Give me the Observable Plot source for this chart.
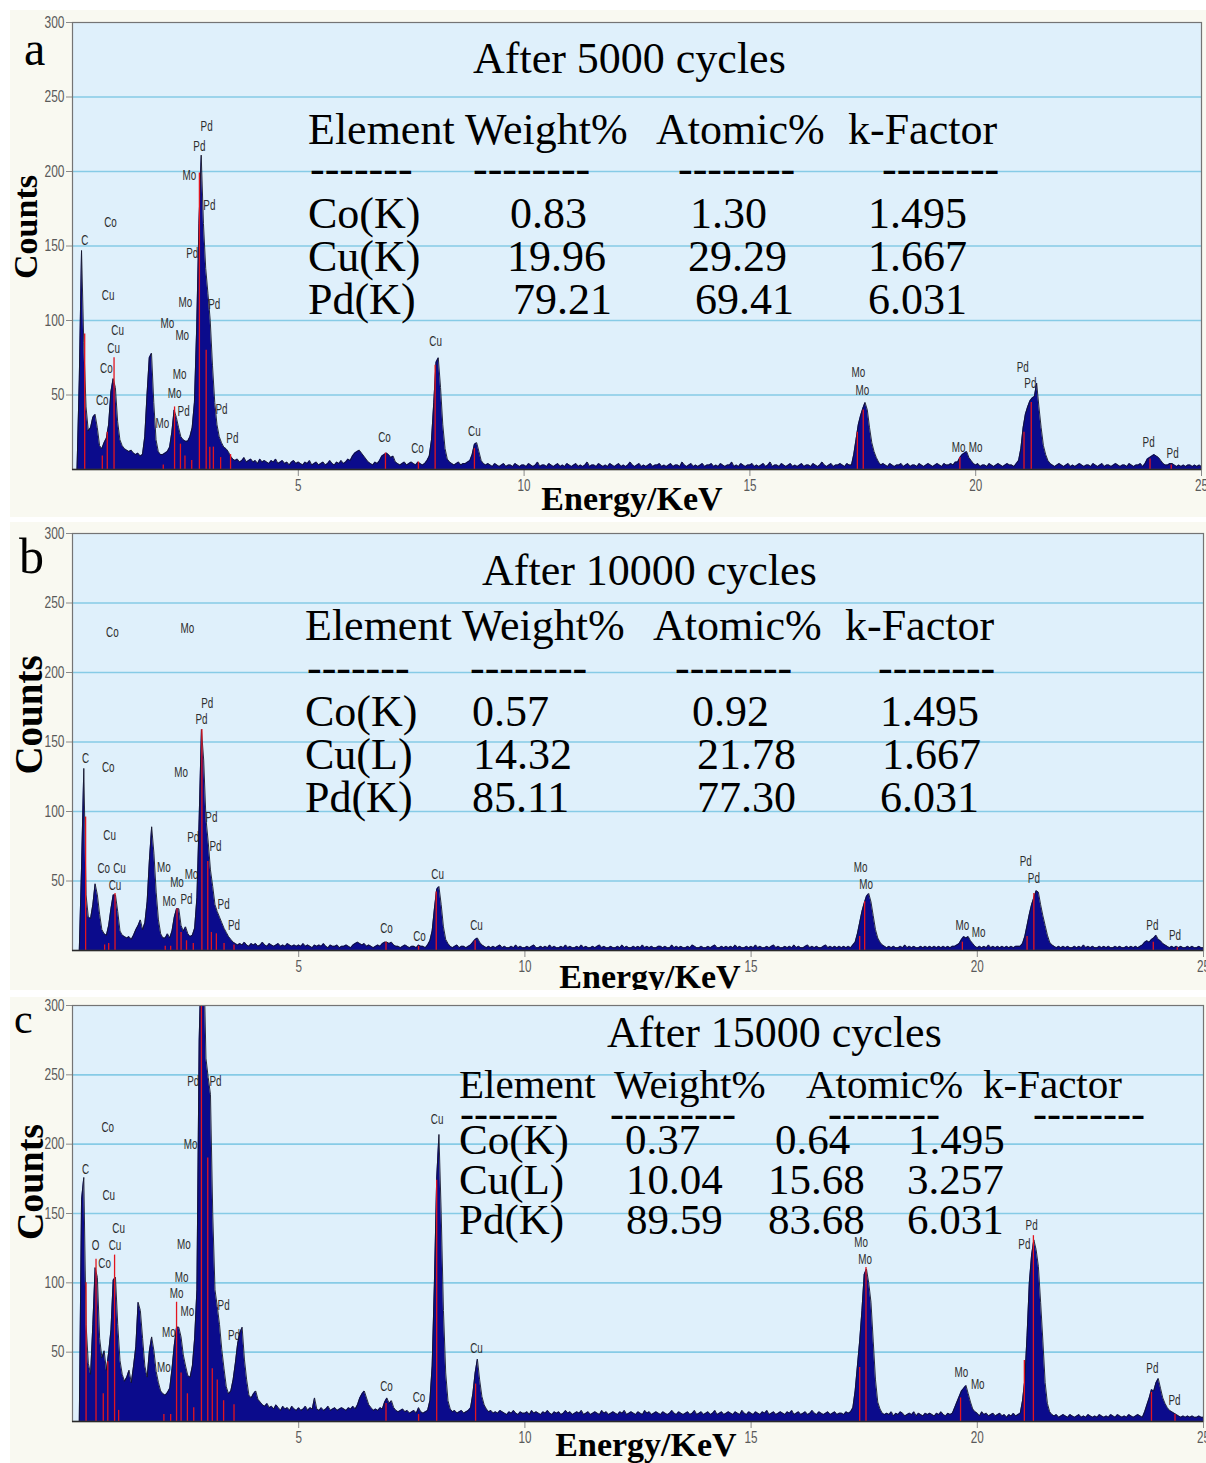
<!DOCTYPE html>
<html>
<head>
<meta charset="utf-8">
<title>EDS spectra after cycling</title>
<script src="https://cdn.jsdelivr.net/npm/d3@7"></script>
<script src="https://cdn.jsdelivr.net/npm/@observablehq/plot@0.6"></script>
<style>
  html, body { margin: 0; padding: 0; background: #ffffff; }
  #page { position: relative; width: 1206px; height: 1463px; overflow: hidden; background: #ffffff; }
  .panel-bg { position: absolute; background: #f9f9f1; }
  .chart { position: absolute; left: 0px; }
</style>
</head>
<body>
<div id="page"></div>
<script>
// ---- Spectrum data: counts per 0.05 keV channel, 0 to 25 keV (one row = 1 keV) ----
const channelWidth = 0.05;

const countsA = [
  0,0,0,60,147,85,42,26,28,35,37,28,16,14,18,21,30,52,61,55,
  32,20,16,14,13,12,13,11,10,11,9,10,22,50,75,78,45,20,12,10,
  10,11,12,15,25,40,35,28,22,20,19,19,22,28,45,95,165,211,165,135,
  118,100,70,45,30,22,18,15,14,12,9,7,6,7,5,6,8,5,6,7,
  5,6,4,7,5,6,5,4,6,5,7,4,5,6,4,5,3,5,6,4,
  5,4,3,5,4,6,3,4,5,3,4,5,3,4,6,4,3,5,4,6,
  4,5,7,6,9,11,12,13,11,9,7,5,4,3,5,4,6,9,10,11,
  10,8,9,5,4,3,4,5,3,4,5,4,3,5,4,3,4,6,9,20,
  45,72,75,55,30,14,7,5,4,3,4,5,3,4,4,5,6,10,17,18,
  12,6,4,3,4,3,2,4,3,2,3,4,2,3,3,2,4,3,2,3,
  3,2,4,3,2,3,5,2,3,3,2,4,3,2,3,4,2,3,2,4,
  3,2,3,4,2,3,2,3,5,2,3,3,2,4,3,2,3,2,4,3,
  2,3,4,2,3,2,3,5,3,2,3,4,2,3,2,3,4,2,3,3,
  4,2,3,2,3,4,2,3,3,2,5,3,2,3,4,2,3,2,3,4,
  2,3,3,4,2,3,2,4,3,2,3,3,5,2,3,2,4,3,2,3,
  3,4,2,3,2,3,4,2,3,5,2,3,3,2,4,3,2,3,4,2,
  3,2,3,4,2,3,3,2,4,3,2,3,5,3,2,3,4,2,3,3,
  4,3,2,4,3,3,10,20,30,36,41,45,40,28,18,12,8,5,3,4,
  3,2,4,3,2,3,3,4,2,3,4,2,3,3,2,4,3,2,3,4,
  3,2,3,4,3,2,4,3,3,4,3,5,5,8,10,11,12,8,6,4,
  3,4,2,3,3,2,4,3,2,3,4,3,2,3,4,3,3,2,4,6,
  14,28,37,42,46,48,49,58,42,28,16,10,6,4,3,2,3,4,3,2,
  3,4,2,3,2,3,4,3,2,3,3,2,4,3,2,3,4,2,3,3,
  2,3,4,3,2,3,3,2,4,3,2,3,3,4,2,4,7,8,9,10,
  9,8,6,4,3,3,4,4,3,2,3,2,3,2,3,3,2,3,2,3,
  2
];

const countsB = [
  0,0,0,0,60,131,40,24,23,33,48,40,26,15,12,11,18,30,40,40,
  28,14,11,10,9,10,8,11,15,18,22,15,20,35,65,89,70,42,22,12,
  9,9,12,9,14,24,30,30,18,14,17,12,10,11,16,38,95,159,137,95,
  78,58,46,33,28,24,20,16,13,10,8,6,5,4,5,4,6,4,3,5,
  4,5,3,4,6,4,3,5,4,3,4,5,3,4,3,5,4,3,4,3,
  4,3,5,3,4,3,2,4,3,4,3,5,3,2,4,3,3,4,2,3,
  3,4,3,2,4,5,6,5,4,5,3,4,3,2,3,4,3,5,6,6,
  5,6,4,3,3,2,3,4,3,2,3,3,2,4,3,3,2,4,7,14,
  30,44,46,33,17,8,5,3,2,3,4,2,3,3,2,3,4,6,8,9,
  6,4,3,2,3,2,3,2,3,4,2,3,2,2,3,2,4,2,3,2,
  2,3,2,3,4,2,2,3,2,3,2,4,2,3,2,2,3,2,4,2,
  3,2,2,3,2,4,2,3,2,2,3,2,3,4,2,3,2,2,3,2,
  2,3,2,4,2,3,2,2,3,2,3,2,4,2,3,2,3,2,2,3,
  3,2,3,2,2,4,2,3,2,3,2,2,3,2,4,3,2,2,3,2,
  2,3,2,3,4,2,2,3,2,3,2,3,2,4,2,3,2,2,3,2,
  3,2,4,2,3,2,2,3,2,3,4,2,3,2,2,3,2,3,2,4,
  2,3,2,2,3,4,2,3,2,3,2,2,3,4,2,3,2,3,2,3,
  2,3,2,3,2,4,6,12,20,28,34,39,41,35,25,15,9,6,4,3,
  2,3,2,3,2,2,3,2,4,2,3,2,3,2,2,3,2,3,2,3,
  2,3,2,3,2,3,2,3,2,3,3,4,5,8,10,9,10,7,5,3,
  2,3,2,3,2,4,2,3,2,3,2,3,2,3,2,3,2,3,3,3,
  5,10,18,26,33,38,43,42,33,25,18,11,6,4,3,2,3,2,3,2,
  3,2,2,3,2,3,2,4,2,3,2,3,2,2,3,2,3,2,3,2,
  2,3,2,3,2,2,3,2,3,2,3,2,3,4,6,7,6,8,9,11,
  8,7,5,4,3,2,3,2,3,2,3,2,2,3,2,3,2,2,3,2,
  2
];

const countsC = [
  0,0,0,0,160,176,70,42,34,70,111,104,60,46,51,37,50,66,102,104,
  70,44,34,29,32,37,28,40,54,86,80,60,40,32,51,61,51,36,28,22,
  20,19,21,24,38,55,68,68,61,48,40,33,32,40,60,95,275,340,340,262,
  248,236,150,95,83,70,52,38,25,20,22,30,42,56,64,68,45,30,19,17,
  20,22,16,14,12,11,13,10,11,9,12,10,8,11,9,10,8,11,9,8,
  10,8,9,11,8,10,9,17,9,8,10,8,9,11,8,9,10,8,9,10,
  9,8,10,9,11,9,12,17,20,22,17,12,10,8,9,8,10,9,14,17,
  13,15,10,8,7,8,9,7,8,6,7,8,6,10,7,6,7,8,15,40,
  100,175,207,150,80,35,15,9,7,8,6,7,8,6,7,8,10,20,35,45,
  30,18,12,9,7,8,6,7,6,8,7,6,5,7,6,8,6,5,7,6,
  6,7,5,8,6,7,6,5,7,6,8,6,5,7,6,7,5,6,8,6,
  7,5,6,7,6,8,5,6,7,5,6,7,6,5,8,6,7,5,6,7,
  6,5,7,6,8,5,6,7,6,5,7,6,5,8,6,7,5,6,7,6,
  5,7,6,5,6,8,6,5,7,6,5,6,7,5,6,8,5,6,7,5,
  6,7,5,6,8,5,6,7,5,6,7,6,5,7,6,5,8,6,5,7,
  6,5,7,6,5,7,6,8,5,6,7,5,6,7,6,5,7,6,8,5,
  6,7,5,6,7,5,6,8,6,5,7,6,5,6,7,5,6,7,5,6,
  6,5,7,6,7,10,22,40,58,80,106,110,100,86,58,30,14,9,6,5,
  6,5,7,4,6,5,7,6,4,5,6,5,7,4,6,5,4,6,5,6,
  5,4,6,5,7,5,4,6,5,6,10,14,18,22,24,26,20,14,9,7,
  6,4,7,5,6,4,5,6,4,5,6,4,5,3,5,4,6,4,5,6,
  15,30,62,100,120,131,124,112,86,58,28,13,7,5,4,5,3,4,5,4,
  3,5,4,3,4,5,3,4,3,5,4,3,4,3,5,4,3,4,3,5,
  4,3,5,4,3,4,3,5,4,3,4,5,4,3,7,12,17,23,22,28,
  31,24,17,13,10,8,7,6,5,4,3,4,3,4,3,4,3,3,4,3,
  3
];

// ---- Element line markers: [energy keV, marker height in counts] ----
const markersA = [[0.27,91],[0.66,9],[0.77,25],[0.92,75],[2.01,3],[2.26,42],[2.39,17],[2.49,9],[2.64,6],[2.81,199],[2.96,80],[3.04,15],[3.12,15],[3.28,8],[3.50,10],[6.93,11],[7.66,5],[8.03,70],[8.90,14],[17.38,25],[17.51,40],[19.65,8],[21.07,25],[21.23,45],[23.86,7],[24.33,3]];
const markersB = [[0.29,96],[0.71,4],[0.80,5],[0.94,41],[2.05,3],[2.17,3],[2.31,30],[2.40,13],[2.52,7],[2.67,5],[2.86,159],[2.99,64],[3.07,13],[3.18,12],[3.35,5],[3.57,4],[6.93,6],[7.65,3],[8.04,42],[8.90,7],[17.40,10],[17.51,35],[19.67,6],[21.10,10],[21.25,41],[23.89,6],[24.42,2]];
const markersC = [[0.30,100],[0.52,117],[0.68,20],[0.78,43],[0.93,120],[1.02,8],[2.02,5],[2.17,5],[2.30,86],[2.40,35],[2.54,20],[2.68,10],[2.85,320],[2.99,190],[3.09,38],[3.20,30],[3.34,15],[3.57,12],[6.93,13],[7.65,5],[8.05,174],[8.91,27],[17.40,39],[17.54,111],[19.63,17],[21.04,44],[21.24,134],[23.85,21],[24.37,5]];

// ---- Peak identification labels: [element, energy keV, counts] ----
const labelsA = [
  ["C",0.27,154],["Co",0.84,166],["Cu",0.79,117],["Cu",1.00,93],["Cu",0.91,81],["Co",0.75,68],["Co",0.66,46],
  ["Mo",2.59,197],["Pd",2.97,230],["Pd",2.81,217],["Pd",3.03,177],["Pd",2.65,145],["Mo",2.50,112],["Pd",3.14,111],
  ["Mo",2.10,98],["Mo",2.43,90],["Mo",2.37,64],["Mo",2.26,51],["Pd",2.46,39],["Mo",1.99,31],["Pd",3.30,40],["Pd",3.54,21],
  ["Co",6.91,21.5],["Co",7.64,14],["Cu",8.04,86],["Cu",8.90,25.5],
  ["Mo",17.40,65],["Mo",17.49,53],["Mo",19.62,15],["Mo",20.00,15],
  ["Pd",21.04,68.5],["Pd",21.21,58],["Pd",23.83,18],["Pd",24.36,11]
];
const labelsB = [
  ["C",0.29,138],["Co",0.79,132],["Mo",2.40,128],["Co",0.88,229],["Mo",2.54,232],["Pd",2.98,178],["Pd",2.85,166],
  ["Cu",0.82,83],["Pd",3.07,96],["Pd",2.67,81],["Pd",3.16,75],["Co",0.69,59],["Cu",1.04,59],["Cu",0.94,47],
  ["Mo",2.02,60],["Mo",2.63,55],["Mo",2.31,49],["Pd",2.52,37],["Mo",2.14,35],["Pd",3.34,33],["Pd",3.57,18],
  ["Co",6.94,16],["Co",7.67,10],["Cu",8.07,55],["Cu",8.93,18],
  ["Mo",17.42,59.5],["Mo",17.54,47.5],["Mo",19.67,18],["Mo",20.03,13],
  ["Pd",21.07,64],["Pd",21.25,52],["Pd",23.87,18],["Pd",24.37,11]
];
const labelsC = [
  ["Pd",2.67,245],["Pd",3.16,245],["Co",0.78,212],["Mo",2.61,200],["C",0.29,182],["Cu",0.80,163],["Cu",1.02,139],
  ["O",0.51,127],["Cu",0.94,127],["Mo",2.46,128],["Co",0.71,114],["Mo",2.41,104],["Mo",2.30,92],["Mo",2.54,79],
  ["Pd",3.34,84],["Mo",2.13,64],["Pd",3.57,62],["Mo",2.02,39],
  ["Co",6.94,25],["Co",7.66,17.5],["Cu",8.06,218],["Cu",8.93,52.6],
  ["Mo",17.43,129],["Mo",17.52,117],["Mo",19.65,35],["Mo",20.01,27],
  ["Pd",21.20,141],["Pd",21.04,128],["Pd",23.87,38],["Pd",24.36,15]
];

// ---- Axis ticks ----
const energyTicks = [5, 10, 15, 20, 25];
const countTicks = [50, 100, 150, 200, 250, 300];
const countGrid = [50, 100, 150, 200, 250];

// ---- Quantification tables ----
const panelLetters = ["a", "b", "c"];
const cycleTitles = ["After 5000 cycles", "After 10000 cycles", "After 15000 cycles"];
const tableHeader = ["Element", "Weight%", "Atomic%", "k-Factor"];
const tableRulesA = ["-------", "--------", "--------", "--------"];
const tableRulesB = ["-------", "--------", "--------", "--------"];
const tableRulesC = ["-------", "---------", "--------", "--------"];
const tableA = [["Co(K)","0.83","1.30","1.495"],["Cu(K)","19.96","29.29","1.667"],["Pd(K)","79.21","69.41","6.031"]];
const tableB = [["Co(K)","0.57","0.92","1.495"],["Cu(L)","14.32","21.78","1.667"],["Pd(K)","85.11","77.30","6.031"]];
const tableC = [["Co(K)","0.37","0.64","1.495"],["Cu(L)","10.04","15.68","3.257"],["Pd(K)","89.59","83.68","6.031"]];

// ---- Drawing ----
const narrow = "'Liberation Sans Narrow','Arial Narrow','Liberation Sans',Arial,sans-serif";
const serif = "'Liberation Serif','Times New Roman',serif";
const page = document.getElementById("page");

function spectrumPlot(counts, markers, labels, box) {
  const spectrum = counts.map((c, i) => ({energy: i * channelWidth, counts: c}));
  return Plot.plot({
    width: 1206,
    height: box.height,
    marginLeft: 72,
    marginRight: box.marginRight,
    marginTop: box.marginTop,
    marginBottom: box.marginBottom,
    style: {background: "transparent"},
    x: {domain: [0, 25]},
    y: {domain: [0, 300]},
    marks: [
      Plot.frame({fill: "#dff0fb", stroke: null}),
      Plot.gridY(countGrid, {stroke: "#86cbe6", strokeOpacity: 1, strokeWidth: 1.6}),
      Plot.text(labels, {x: d => d[1], y: d => d[2], text: d => d[0], fontFamily: narrow, fontSize: 13, fill: "#2e2e2e"}),
      Plot.areaY(spectrum, {x: "energy", y: "counts", fill: "#0b0b8c", clip: true}),
      Plot.lineY(spectrum, {x: "energy", y: "counts", stroke: "#14142a", strokeWidth: 0.9, clip: true}),
      Plot.ruleX(markers, {x: d => d[0], y1: 0, y2: d => d[1], stroke: "#e3151f", strokeWidth: 1.3, clip: true}),
      Plot.axisY({ticks: countTicks, tickSize: 6, tickPadding: 2, label: null, stroke: "#8a8a8a", fill: "#5a5a5a", fontSize: 15, fontFamily: narrow}),
      Plot.axisX({ticks: energyTicks, tickSize: 7, tickPadding: 3, label: null, stroke: "#8a8a8a", fill: "#5a5a5a", fontSize: 15, fontFamily: narrow}),
      Plot.frame({stroke: "#747474", strokeWidth: 1.2}),
      Plot.ruleY([0], {stroke: "#2a2a2a", strokeWidth: 1.6})
    ]
  });
}

// Squeeze text horizontally (and stretch slightly vertically) about its own anchor,
// giving the tall, condensed look of the analyser's annotation font.
function condense(svg, selector, sx, sy) {
  svg.querySelectorAll(selector).forEach(t => {
    const tr = t.getAttribute("transform");
    if (tr) {
      t.setAttribute("transform", `${tr} scale(${sx},${sy})`);
    } else {
      const x = parseFloat(t.getAttribute("x")) || 0;
      const y = parseFloat(t.getAttribute("y")) || 0;
      t.setAttribute("transform", `translate(${x},${y}) scale(${sx},${sy}) translate(${-x},${-y})`);
    }
  });
}

const panels = [
  {counts: countsA, markers: markersA, labels: labelsA, top: 0,   height: 518, marginTop: 22, marginBottom: 49, marginRight: 5, bgTop: 10,  bgHeight: 507},
  {counts: countsB, markers: markersB, labels: labelsB, top: 520, height: 470, marginTop: 13, marginBottom: 40, marginRight: 3, bgTop: 522, bgHeight: 468},
  {counts: countsC, markers: markersC, labels: labelsC, top: 993, height: 470, marginTop: 12, marginBottom: 42, marginRight: 3, bgTop: 997, bgHeight: 466}
];

for (const p of panels) {
  const bg = document.createElement("div");
  bg.className = "panel-bg";
  Object.assign(bg.style, {left: "10px", top: p.bgTop + "px", width: "1196px", height: p.bgHeight + "px"});
  page.appendChild(bg);
  const chart = spectrumPlot(p.counts, p.markers, p.labels, p);
  chart.classList.add("chart");
  chart.style.top = p.top + "px";
  condense(chart, 'g[aria-label="text"] text', 0.76, 1.08);
  condense(chart, 'g[aria-label="y-axis tick label"] text', 0.8, 1.05);
  condense(chart, 'g[aria-label="x-axis tick label"] text', 0.78, 1.05);
  page.appendChild(chart);
}

// ---- Panel letters, axis titles, headings and tables ----
const notes = d3.select(page).append("svg")
  .attr("width", 1206).attr("height", 1463)
  .style("position", "absolute").style("left", "0px").style("top", "0px");

notes.append("clipPath").attr("id", "clip-b")
  .append("rect").attr("x", 0).attr("y", 520).attr("width", 1206).attr("height", 470);

function put(str, x, y, size, opts = {}) {
  const t = notes.append("text")
    .attr("x", x).attr("y", y)
    .attr("font-family", serif)
    .attr("font-size", size)
    .attr("font-weight", opts.weight || "normal")
    .attr("text-anchor", opts.anchor || "start")
    .attr("fill", "#000")
    .style("white-space", "pre")
    .text(str);
  if (opts.rotate) t.attr("transform", `rotate(-90 ${x} ${y})`).attr("dominant-baseline", "central");
  if (opts.clip) t.attr("clip-path", `url(#${opts.clip})`);
  return t;
}

const noteLayout = [
  {
    letter: [24, 65, 48], counts: [25, 227, 34], energy: [632, 510], title: [473, 73, 44],
    header: {x: [308, 465, 656, 848], y: 144, size: 44},
    rule: {x: [310, 473, 678, 882], y: 183, size: 44, text: tableRulesA},
    rows: {x: [[308, 510, 690, 868], [308, 507, 688, 868], [308, 513, 695, 868]], y: [228, 271, 314], size: 44, table: tableA}
  },
  {
    letter: [19, 573, 50], counts: [28, 715, 39], energy: [650, 988], title: [482, 585, 44], clip: "clip-b",
    header: {x: [305, 462, 653, 845], y: 640, size: 44},
    rule: {x: [307, 470, 675, 878], y: 682, size: 44, text: tableRulesB},
    rows: {x: [[305, 472, 692, 880], [305, 473, 697, 882], [305, 472, 697, 880]], y: [726, 769, 812], size: 44, table: tableB}
  },
  {
    letter: [14, 1033, 42], counts: [30, 1182, 38], energy: [646, 1456], title: [607, 1047, 44],
    header: {x: [459, 614, 806, 983], y: 1098, size: 41},
    rule: {x: [460, 610, 828, 1033], y: 1127, size: 42, text: tableRulesC},
    rows: {x: [[459, 625, 775, 908], [459, 626, 768, 907], [459, 626, 768, 907]], y: [1154, 1194, 1234], size: 43, table: tableC}
  }
];

noteLayout.forEach((n, i) => {
  put(panelLetters[i], n.letter[0], n.letter[1], n.letter[2]);
  put("Counts", n.counts[0], n.counts[1], n.counts[2], {weight: "bold", anchor: "middle", rotate: true});
  put("Energy/KeV", n.energy[0], n.energy[1], 34, {weight: "bold", anchor: "middle", clip: n.clip});
  put(cycleTitles[i], n.title[0], n.title[1], n.title[2]);
  tableHeader.forEach((h, j) => put(h, n.header.x[j], n.header.y, n.header.size));
  n.rule.text.forEach((r, j) => put(r, n.rule.x[j], n.rule.y, n.rule.size));
  n.rows.table.forEach((row, r) => {
    row.forEach((cell, j) => put(cell, n.rows.x[r][j], n.rows.y[r], n.rows.size));
  });
});
</script>
</body>
</html>
